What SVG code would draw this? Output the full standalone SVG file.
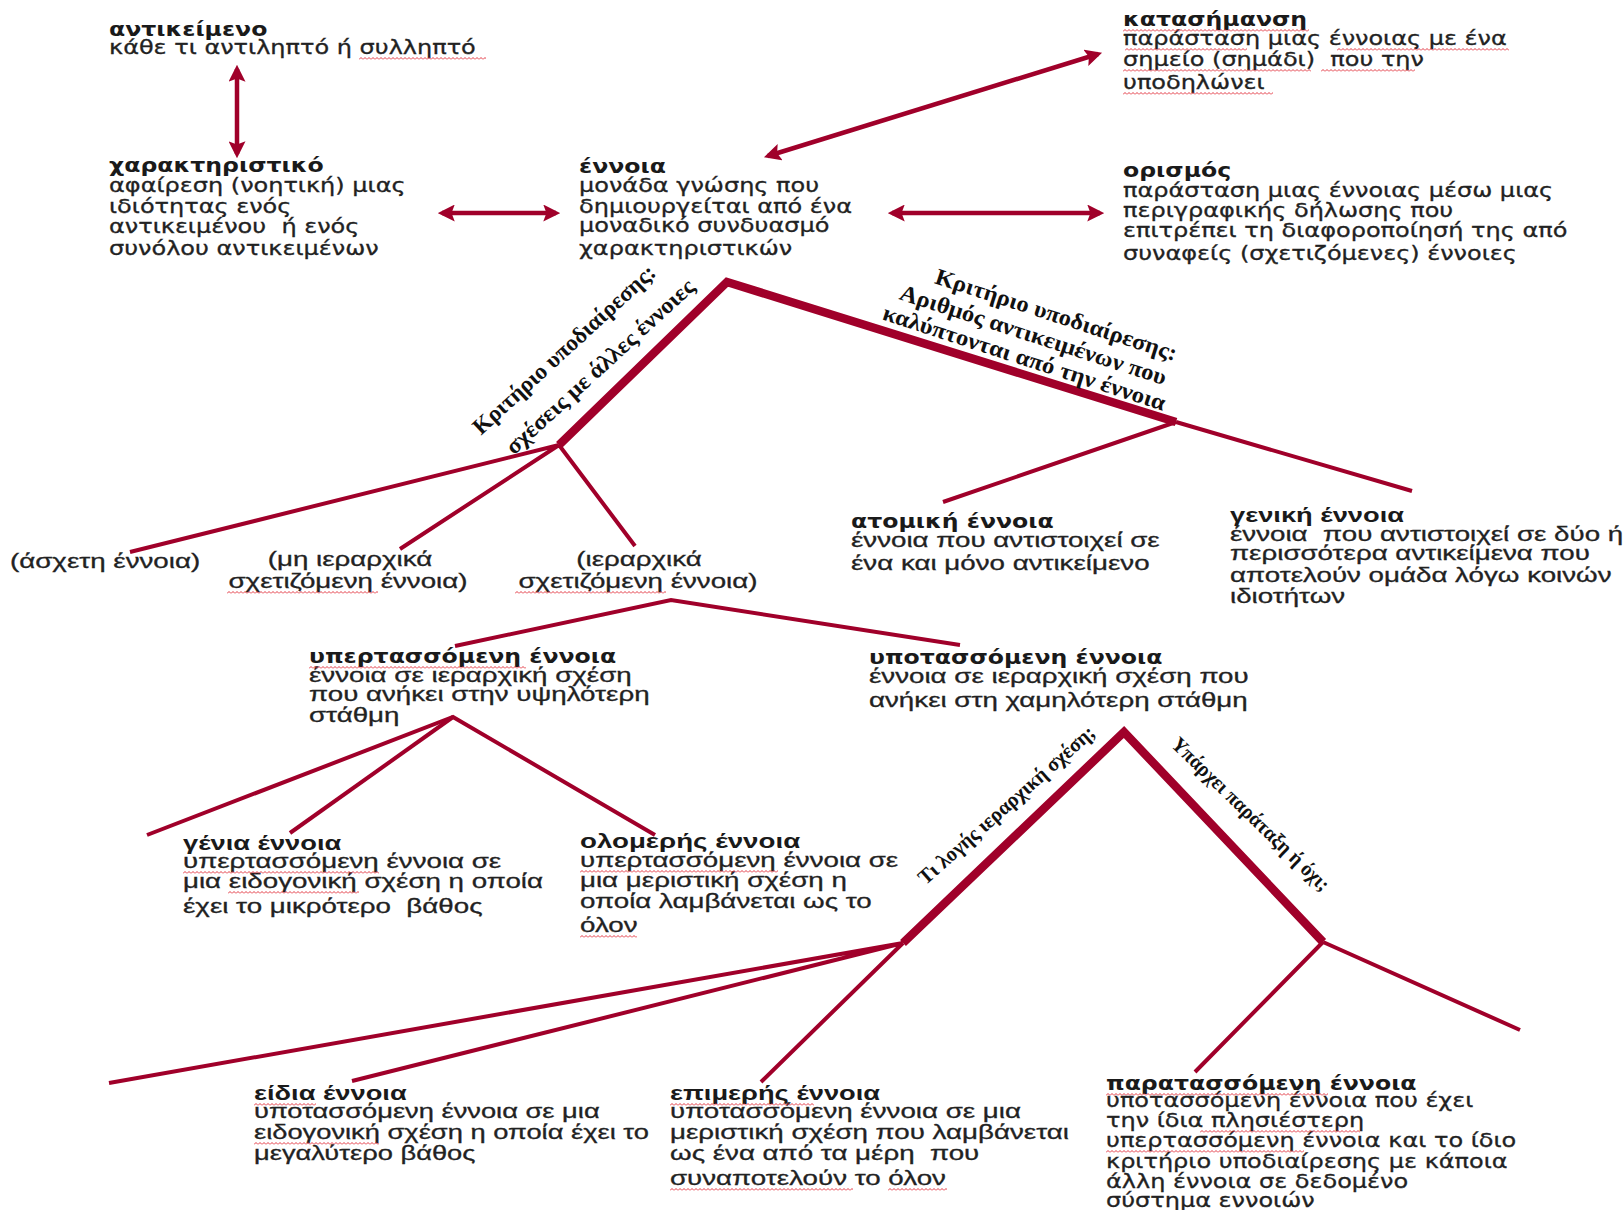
<svg xmlns="http://www.w3.org/2000/svg" width="1624" height="1210" viewBox="0 0 1624 1210">
<defs>
<style>
.w{font-family:"DejaVu Sans",sans-serif;font-size:20px;fill:#222;stroke:#222;stroke-width:0.3}
.wb{font-family:"DejaVu Sans",sans-serif;font-size:20px;font-weight:bold;fill:#1a1a1a}
.a{font-family:"Liberation Sans",Arial,sans-serif;font-size:21px;fill:#222;stroke:#222;stroke-width:0.3}
.ab{font-family:"Liberation Sans",Arial,sans-serif;font-size:21px;font-weight:bold;fill:#1a1a1a}
.lbl{font-family:"Liberation Serif","Times New Roman",serif;font-size:23px;font-weight:bold;fill:#111}
.lbs{font-family:"Liberation Serif","Times New Roman",serif;font-size:21px;font-weight:bold;fill:#111}
.c{text-anchor:middle}
.thin{fill:none;stroke:#a0002a;stroke-width:4;stroke-linejoin:miter}
.thick{fill:none;stroke:#a0002a;stroke-width:8.5;stroke-linejoin:miter}
.arr{fill:none;stroke:#a0002a;stroke-width:4.5;marker-start:url(#ah);marker-end:url(#ah)}
.sq{fill:url(#sqp)}
</style>
<marker id="ah" markerUnits="userSpaceOnUse" markerWidth="17" markerHeight="17" viewBox="0 0 16 16" refX="12" refY="8" orient="auto-start-reverse"><path d="M0,0 L16,8 L0,16 L3,8 z" fill="#a0002a"/></marker>
<pattern id="sqp" width="4" height="3" patternUnits="userSpaceOnUse"><path d="M0,2.5 L2,0.5 L4,2.5" fill="none" stroke="#e0222f" stroke-width="0.9"/></pattern>
</defs>
<rect width="1624" height="1210" fill="#fff"/>

<g id="connectors">
<path class="arr" d="M237,69 L237,154"/>
<path class="arr" d="M442,213 L556,213"/>
<path class="arr" d="M892,213 L1100,213"/>
<path class="arr" d="M768,156 L1098,54"/>
<polyline class="thick" points="559,445 727,282 1176,422"/>
<path class="thin" d="M559,445 L130,552 M559,445 L400,549 M559,445 L635,546 M1176,422 L943,502 M1176,422 L1412,491"/>
<polyline class="thin" points="455,646 671,600 960,645"/>
<polyline class="thin" points="147,835 453,717 655,835"/>
<path class="thin" d="M453,717 L290,833"/>
<polyline class="thick" points="903,943 1124,732 1323,942"/>
<path class="thin" d="M903,943 L109,1083 M903,943 L352,1081 M903,943 L761,1082 M1323,942 L1195,1072 M1323,942 L1520,1030"/>
<text class="lbl c" transform="translate(569,355) rotate(-42.5)" textLength="239" lengthAdjust="spacingAndGlyphs">Κριτήριο υποδιαίρεσης:</text>
<text class="lbl c" transform="translate(605,372) rotate(-42.5)" textLength="247" lengthAdjust="spacingAndGlyphs">σχέσεις με άλλες έννοιες</text>
<text class="lbl c" transform="translate(1054,322) rotate(18)" textLength="253" lengthAdjust="spacingAndGlyphs">Κριτήριο υποδιαίρεσης:</text>
<text class="lbl c" transform="translate(1031,342) rotate(18)" textLength="279" lengthAdjust="spacingAndGlyphs">Αριθμός αντικειμένων που</text>
<text class="lbl c" transform="translate(1022,365) rotate(18)" textLength="296" lengthAdjust="spacingAndGlyphs">καλύπτονται από την έννοια</text>
<text class="lbs c" transform="translate(1011,810) rotate(-41.5)" textLength="228" lengthAdjust="spacingAndGlyphs">Τι λογής ιεραρχική σχέση;</text>
<text class="lbs c" transform="translate(1246,819) rotate(44)" textLength="211" lengthAdjust="spacingAndGlyphs">Υπάρχει παράταξη ή όχι;</text>
</g>

<g id="antikeimeno">
<text class="wb" transform="matrix(1.18 0 0 1 109 36)">αντικείμενο</text>
<text class="w" transform="matrix(1.2 0 0 1 109 54)">κάθε τι αντιληπτό ή συλληπτό</text>
<rect class="sq" transform="translate(359,57)" width="127" height="3"/>
</g>

<g id="charaktiristiko">
<text class="wb" transform="matrix(1.18 0 0 1 109 172)">χαρακτηριστικό</text>
<text class="w" transform="matrix(1.2 0 0 1 109 192)">αφαίρεση (νοητική) μιας</text>
<text class="w" transform="matrix(1.2 0 0 1 109 213)">ιδιότητας ενός</text>
<text class="w" transform="matrix(1.2 0 0 1 109 233)">αντικειμένου&#160; ή ενός</text>
<text class="w" transform="matrix(1.2 0 0 1 109 255)">συνόλου αντικειμένων</text>
</g>

<g id="ennoia">
<text class="wb" transform="matrix(1.18 0 0 1 579 173)">έννοια</text>
<text class="w" transform="matrix(1.2 0 0 1 579 192)">μονάδα γνώσης που</text>
<text class="w" transform="matrix(1.2 0 0 1 579 213)">δημιουργείται από ένα</text>
<text class="w" transform="matrix(1.2 0 0 1 579 232)">μοναδικό συνδυασμό</text>
<text class="w" transform="matrix(1.2 0 0 1 579 255)">χαρακτηριστικών</text>
</g>

<g id="katasimansi">
<text class="wb" transform="matrix(1.18 0 0 1 1123 26)">κατασήμανση</text>
<text class="w" transform="matrix(1.2 0 0 1 1123 45)">παράσταση μιας έννοιας με ένα</text>
<text class="w" transform="matrix(1.2 0 0 1 1123 66)">σημείο (σημάδι)&#160; που την</text>
<text class="w" transform="matrix(1.2 0 0 1 1123 89)">υποδηλώνει</text>
<rect class="sq" transform="translate(1123,29)" width="186" height="3"/>
<rect class="sq" transform="translate(1125,48)" width="122" height="3"/>
<rect class="sq" transform="translate(1337,48)" width="172" height="3"/>
<rect class="sq" transform="translate(1123,69)" width="188" height="3"/>
<rect class="sq" transform="translate(1321,69)" width="94" height="3"/>
<rect class="sq" transform="translate(1123,92)" width="150" height="3"/>
</g>

<g id="orismos">
<text class="wb" transform="matrix(1.18 0 0 1 1123 177)">ορισμός</text>
<text class="w" transform="matrix(1.2 0 0 1 1123 197)">παράσταση μιας έννοιας μέσω μιας</text>
<text class="w" transform="matrix(1.2 0 0 1 1123 217)">περιγραφικής δήλωσης που</text>
<text class="w" transform="matrix(1.2 0 0 1 1123 237)">επιτρέπει τη διαφοροποίησή της από</text>
<text class="w" transform="matrix(1.2 0 0 1 1123 260)">συναφείς (σχετιζόμενες) έννοιες</text>
</g>

<g id="asxeti">
<text class="a" transform="matrix(1.32 0 0 1 10 568)">(άσχετη έννοια)</text>
</g>

<g id="mi-ierarxika">
<text class="a c" transform="matrix(1.32 0 0 1 350 566)">(μη ιεραρχικά</text>
<text class="a c" transform="matrix(1.32 0 0 1 348 588)">σχετιζόμενη έννοια)</text>
<rect class="sq" transform="translate(227,591)" width="151" height="3"/>
</g>

<g id="ierarxika">
<text class="a c" transform="matrix(1.32 0 0 1 639 566)">(ιεραρχικά</text>
<text class="a c" transform="matrix(1.32 0 0 1 638 588)">σχετιζόμενη έννοια)</text>
<rect class="sq" transform="translate(515,591)" width="151" height="3"/>
</g>

<g id="atomiki">
<text class="wb" transform="matrix(1.18 0 0 1 851 528)">ατομική έννοια</text>
<text class="a" transform="matrix(1.32 0 0 1 851 547)">έννοια που αντιστοιχεί σε</text>
<text class="a" transform="matrix(1.32 0 0 1 851 570)">ένα και μόνο αντικείμενο</text>
</g>

<g id="geniki">
<text class="ab" transform="matrix(1.3 0 0 1 1230 522)">γενική έννοια</text>
<text class="a" transform="matrix(1.32 0 0 1 1230 541)">έννοια&#160; που αντιστοιχεί σε δύο ή</text>
<text class="a" transform="matrix(1.32 0 0 1 1230 560)">περισσότερα αντικείμενα που</text>
<text class="a" transform="matrix(1.32 0 0 1 1230 582)">αποτελούν ομάδα λόγω κοινών</text>
<text class="a" transform="matrix(1.32 0 0 1 1230 603)">ιδιοτήτων</text>
</g>

<g id="yperetassomeni">
<text class="wb" transform="matrix(1.18 0 0 1 309 663)">υπερτασσόμενη έννοια</text>
<text class="a" transform="matrix(1.32 0 0 1 309 682)">έννοια σε ιεραρχική σχέση</text>
<text class="a" transform="matrix(1.32 0 0 1 309 701)">που ανήκει στην υψηλότερη</text>
<text class="a" transform="matrix(1.32 0 0 1 309 722)">στάθμη</text>
<rect class="sq" transform="translate(309,666)" width="217" height="3"/>
</g>

<g id="ypotassomeni">
<text class="wb" transform="matrix(1.18 0 0 1 869 664)">υποτασσόμενη έννοια</text>
<text class="a" transform="matrix(1.32 0 0 1 869 683)">έννοια σε ιεραρχική σχέση που</text>
<text class="a" transform="matrix(1.32 0 0 1 869 707)">ανήκει στη χαμηλότερη στάθμη</text>
</g>

<g id="genia">
<text class="ab" transform="matrix(1.3 0 0 1 183 850)">γένια έννοια</text>
<text class="a" transform="matrix(1.32 0 0 1 183 868)">υπερτασσόμενη έννοια σε</text>
<text class="a" transform="matrix(1.32 0 0 1 183 888)">μια ειδογονική σχέση η οποία</text>
<text class="a" transform="matrix(1.32 0 0 1 183 913)">έχει το μικρότερο&#160; βάθος</text>
<rect class="sq" transform="translate(183,871)" width="196" height="3"/>
<rect class="sq" transform="translate(228,891)" width="131" height="3"/>
</g>

<g id="olomeris">
<text class="ab" transform="matrix(1.32 0 0 1 580 848)">ολομερής έννοια</text>
<text class="a" transform="matrix(1.32 0 0 1 580 867)">υπερτασσόμενη έννοια σε</text>
<text class="a" transform="matrix(1.32 0 0 1 580 887)">μια μεριστική σχέση η</text>
<text class="a" transform="matrix(1.32 0 0 1 580 908)">οποία λαμβάνεται ως το</text>
<text class="a" transform="matrix(1.32 0 0 1 580 932)">όλον</text>
<rect class="sq" transform="translate(580,870)" width="198" height="3"/>
<rect class="sq" transform="translate(580,935)" width="57" height="3"/>
</g>

<g id="eidia">
<text class="ab" transform="matrix(1.3 0 0 1 254 1100)">είδια έννοια</text>
<text class="a" transform="matrix(1.3 0 0 1 254 1118)">υποτασσόμενη έννοια σε μια</text>
<text class="a" transform="matrix(1.3 0 0 1 254 1139)">ειδογονική σχέση η οποία έχει το</text>
<text class="a" transform="matrix(1.3 0 0 1 254 1160)">μεγαλύτερο βάθος</text>
<rect class="sq" transform="translate(254,1103)" width="62" height="3"/>
<rect class="sq" transform="translate(254,1142)" width="125" height="3"/>
</g>

<g id="epimeris">
<text class="ab" transform="matrix(1.3 0 0 1 670 1100)">επιμερής έννοια</text>
<text class="a" transform="matrix(1.32 0 0 1 670 1118)">υποτασσόμενη έννοια σε μια</text>
<text class="a" transform="matrix(1.32 0 0 1 670 1139)">μεριστική σχέση που λαμβάνεται</text>
<text class="a" transform="matrix(1.32 0 0 1 670 1160)">ως ένα από τα μέρη&#160; που</text>
<text class="a" transform="matrix(1.32 0 0 1 670 1185)">συναποτελούν το όλον</text>
<rect class="sq" transform="translate(670,1103)" width="144" height="3"/>
<rect class="sq" transform="translate(670,1188)" width="183" height="3"/>
<rect class="sq" transform="translate(888,1188)" width="59" height="3"/>
</g>

<g id="parataxi">
<text class="wb" transform="matrix(1.18 0 0 1 1106 1090)">παρατασσόμενη έννοια</text>
<text class="w" transform="matrix(1.2 0 0 1 1106 1107)">υποτασσόμενη έννοια που έχει</text>
<text class="w" transform="matrix(1.2 0 0 1 1106 1127)">την ίδια πλησιέστερη</text>
<text class="w" transform="matrix(1.2 0 0 1 1106 1147)">υπερτασσόμενη έννοια και το ίδιο</text>
<text class="w" transform="matrix(1.2 0 0 1 1106 1168)">κριτήριο υποδιαίρεσης με κάποια</text>
<text class="w" transform="matrix(1.2 0 0 1 1106 1188)">άλλη έννοια σε δεδομένο</text>
<text class="w" transform="matrix(1.2 0 0 1 1106 1207)">σύστημα εννοιών</text>
<rect class="sq" transform="translate(1106,1093)" width="222" height="3"/>
<rect class="sq" transform="translate(1200,1130)" width="160" height="3"/>
<rect class="sq" transform="translate(1106,1150)" width="198" height="3"/>
</g>
</svg>
